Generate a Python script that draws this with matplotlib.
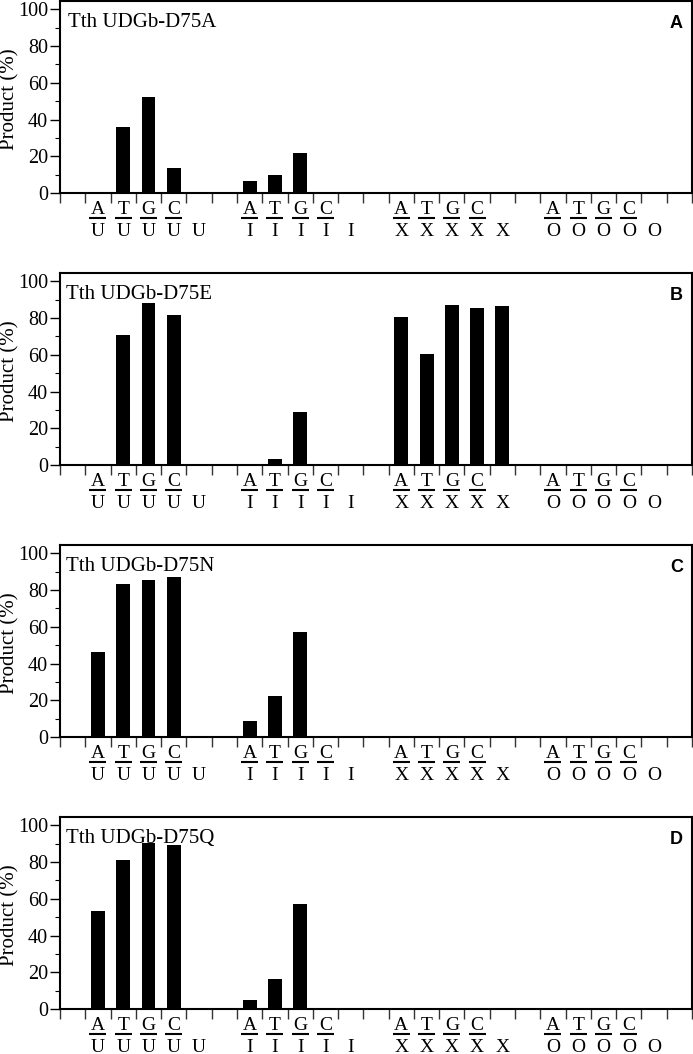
import matplotlib
matplotlib.use('Agg')
import matplotlib.pyplot as plt
from matplotlib.transforms import offset_copy
from matplotlib.ticker import MultipleLocator
import numpy as np

plt.rcParams['font.family'] = ['Liberation Serif', 'DejaVu Serif']

# opposite bases (top row) and damaged base of each group (bottom row)
partners = ['A', 'T', 'G', 'C']
lesions = ['U', 'I', 'X', 'O']

panel_titles = ['Tth UDGb-D75A', 'Tth UDGb-D75E', 'Tth UDGb-D75N', 'Tth UDGb-D75Q']
panel_letters = ['A', 'B', 'C', 'D']

# product (%) per group: A/x, T/x, G/x, C/x, single-stranded x
d75a = [0, 35.7, 52.3, 13.4, 0,   6.5, 9.8, 21.6, 0, 0,   0, 0, 0, 0, 0,   0, 0, 0, 0, 0]
d75e = [0.5, 70.7, 88.0, 81.7, 0,   0, 3.4, 29.0, 0, 0,   80.6, 60.5, 87.1, 85.7, 86.4,   0, 0, 0, 0, 0]
d75n = [46.4, 83.3, 85.7, 87.0, 0,   8.7, 22.5, 57.2, 0, 0,   0, 0, 0, 0, 0,   0, 0, 0, 0, 0]
d75q = [53.3, 81.2, 90.4, 89.1, 0,   5.1, 16.3, 57.2, 0, 0,   0, 0, 0, 0, 0,   0, 0, 0, 0, 0]
panel_data = [d75a, d75e, d75n, d75q]

# slot centres: each group takes 5 slots followed by one empty slot
xpos = []
for g in range(len(lesions)):
    for k in range(5):
        xpos.append(1 + 6 * g + k + 0.5)
xpos = np.array(xpos)

W, H = 693, 1054
fig = plt.figure(figsize=(W / 100, H / 100), dpi=100)

title_x = [0.0125, 0.009, 0.009, 0.009]

for i, vals in enumerate(panel_data):
    base_px = 193 + 272 * i
    ax = fig.add_axes([60 / W, 1 - base_px / H, 632 / W, 192 / H])
    ax.bar(xpos, vals, width=0.55, color='black', linewidth=0)

    ax.set_xlim(0, 25)
    ax.set_ylim(0, 104.5)
    ax.set_xticks(np.arange(0, 26))
    ax.set_xticklabels([])
    ax.yaxis.set_major_locator(MultipleLocator(20))
    ax.yaxis.set_minor_locator(MultipleLocator(10))
    ax.tick_params(axis='x', direction='out', length=7, width=1, color='#333333')
    ax.tick_params(axis='y', which='major', direction='out', length=7, width=1,
                   labelsize=14.5, pad=1.5)
    ax.tick_params(axis='y', which='minor', direction='out', length=3.5, width=0.8)
    for sp in ax.spines.values():
        sp.set_linewidth(1.5)

    fig.text(10 / W, 1 - (base_px - 94) / H, 'Product (%)', rotation=90,
             ha='center', va='center', fontsize=15)

    ax.text(title_x[i], 0.866, panel_titles[i], transform=ax.transAxes,
            fontsize=15, va='baseline', ha='left')
    ax.text(0.9858, 0.859, panel_letters[i], transform=ax.transAxes,
            fontsize=13, fontweight='bold', va='baseline', ha='right',
            family=['Liberation Sans', 'DejaVu Sans'])

    # two-row category labels under the axis
    xt = ax.get_xaxis_transform()
    top_tr = offset_copy(xt, fig=fig, y=-21.5, units='dots')
    line_tr = offset_copy(xt, fig=fig, y=-25, units='dots')
    bot_tr = offset_copy(xt, fig=fig, y=-42.5, units='dots')
    for g, les in enumerate(lesions):
        for k in range(5):
            x = xpos[g * 5 + k]
            if k < 4:
                ax.text(x, 0, partners[k], transform=top_tr, ha='center',
                        va='baseline', fontsize=14)
                ax.plot([x - 0.335, x + 0.335], [0, 0], transform=line_tr,
                        color='black', lw=1.5, clip_on=False,
                        solid_capstyle='butt')
            ax.text(x, 0, les, transform=bot_tr, ha='center',
                    va='baseline', fontsize=14)

plt.savefig('out.png', dpi=100)
